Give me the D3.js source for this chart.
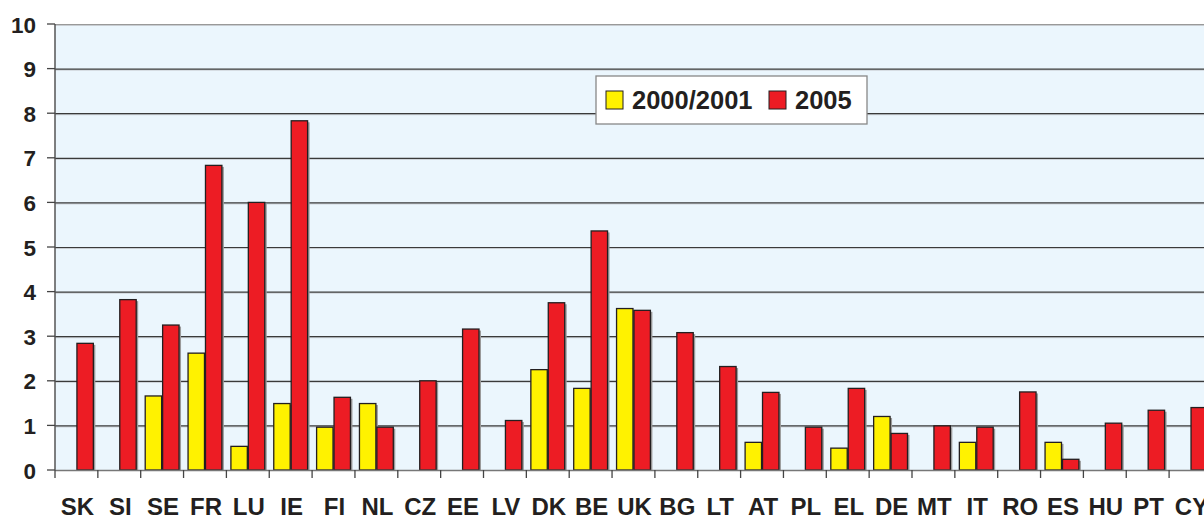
<!DOCTYPE html>
<html>
<head>
    <style>
        body { margin: 0; background: white; }
        text { font-family: "Liberation Sans", Arial, sans-serif; font-weight: bold; fill: #231F20; }
    </style>
    <script src="https://d3js.org/d3.v7.min.js"></script>
</head>
<body>
    <svg width="1204" height="516"></svg>
    <script>
        // data
        const countries = ["SK", "SI", "SE", "FR", "LU", "IE", "FI", "NL", "CZ", "EE", "LV", "DK", "BE", "UK",
            "BG", "LT", "AT", "PL", "EL", "DE", "MT", "IT", "RO", "ES", "HU", "PT", "CY"];
        const seriesNames = ["2000/2001", "2005"];
        const values2000 = [null, null, 1.66, 2.62, 0.53, 1.49, 0.96, 1.49, null, null, null, 2.25, 1.83, 3.62,
            null, null, 0.62, null, 0.49, 1.2, null, 0.62, null, 0.62, null, null, null];
        const values2005 = [2.84, 3.82, 3.25, 6.83, 6.0, 7.83, 1.63, 0.96, 2.0, 3.16, 1.11, 3.75, 5.36, 3.58,
            3.08, 2.32, 1.74, 0.96, 1.83, 0.82, 0.99, 0.96, 1.75, 0.24, 1.05, 1.34, 1.4];
        const yTicks = [0, 1, 2, 3, 4, 5, 6, 7, 8, 9, 10];
        const colors = { "2000/2001": "#FFF200", "2005": "#ED1C24" };

        const svg = d3.select("svg");
        const plotLeft = 55, plotTop = 24, plotBottom = 470, step = 42.85;

        const x = d3.scaleBand().domain(countries).range([plotLeft, plotLeft + countries.length * step]).padding(0);
        const x1 = d3.scaleBand().domain(seriesNames).range([0, x.bandwidth()]).paddingInner(0).paddingOuter(0.23);
        const y = d3.scaleLinear().domain([0, 10]).range([plotBottom, plotTop]);

        // plot background
        svg.append("rect")
            .attr("x", plotLeft).attr("y", plotTop)
            .attr("width", x.range()[1] - plotLeft).attr("height", plotBottom - plotTop)
            .attr("fill", "#EBF6FD");

        // gridlines
        const grid = svg.append("g");
        grid.selectAll(".g2").data(yTicks.filter(d => d > 0)).join("line")
            .attr("x1", plotLeft).attr("x2", 1204)
            .attr("y1", d => y(d) + 1.5).attr("y2", d => y(d) + 1.5)
            .attr("stroke", "#c8cdd2").attr("stroke-width", 1);
        grid.selectAll(".g1").data(yTicks.filter(d => d > 0)).join("line")
            .attr("x1", plotLeft).attr("x2", 1204)
            .attr("y1", d => y(d) + 0.5).attr("y2", d => y(d) + 0.5)
            .attr("stroke", d => d === 10 ? "#999" : "#3a3a3a").attr("stroke-width", 1.2);

        // bars
        const rows = countries.map((c, i) => ({ c, vals: [
            { s: "2000/2001", v: values2000[i] },
            { s: "2005", v: values2005[i] }
        ].filter(d => d.v !== null) }));

        const groups = svg.append("g").selectAll("g").data(rows).join("g")
            .attr("transform", d => `translate(${x(d.c)},0)`);

        groups.selectAll(".shadow").data(d => d.vals).join("rect")
            .attr("x", d => x1(d.s) + 1.5)
            .attr("y", d => y(d.v) + 1.5)
            .attr("width", x1.bandwidth())
            .attr("height", d => plotBottom - y(d.v) - 1.5)
            .attr("fill", "#9a9a9a");

        groups.selectAll(".bar").data(d => d.vals).join("rect")
            .attr("x", d => x1(d.s) + 0.5)
            .attr("y", d => y(d.v))
            .attr("width", x1.bandwidth() - 1)
            .attr("height", d => plotBottom - y(d.v))
            .attr("fill", d => colors[d.s])
            .attr("stroke", "#231F20").attr("stroke-width", 1.3);

        // y axis
        svg.append("line").attr("x1", plotLeft).attr("x2", plotLeft).attr("y1", plotTop).attr("y2", plotBottom)
            .attr("stroke", "#555").attr("stroke-width", 1.5);
        svg.selectAll(".yt").data(yTicks).join("line")
            .attr("x1", plotLeft - 8).attr("x2", plotLeft)
            .attr("y1", d => y(d)).attr("y2", d => y(d))
            .attr("stroke", "#444").attr("stroke-width", 1.3);
        svg.selectAll(".yl").data(yTicks).join("text")
            .attr("x", 36).attr("y", d => y(d) + 8.5)
            .attr("text-anchor", "end")
            .style("font-size", "22.5px")
            .text(d => d);

        // x axis
        svg.append("line").attr("x1", plotLeft).attr("x2", 1204).attr("y1", plotBottom + 0.5).attr("y2", plotBottom + 0.5)
            .attr("stroke", "#777").attr("stroke-width", 1.3);
        svg.selectAll(".xt").data(countries).join("line")
            .attr("x1", d => x(d)).attr("x2", d => x(d))
            .attr("y1", plotBottom).attr("y2", plotBottom + 8)
            .attr("stroke", "#444").attr("stroke-width", 1.3);
        svg.selectAll(".xl").data(countries).join("text")
            .attr("x", d => x(d) + x.bandwidth() / 2 + 1)
            .attr("y", 514.5)
            .attr("text-anchor", "middle")
            .style("font-size", "24px")
            .text(d => d);

        // legend
        const lg = svg.append("g").attr("transform", "translate(596,76)");
        lg.append("rect").attr("width", 271).attr("height", 48)
            .attr("fill", "white").attr("stroke", "#888").attr("stroke-width", 1.3);
        const items = [{ s: "2000/2001", sx: 10, tx: 36 }, { s: "2005", sx: 173, tx: 199 }];
        items.forEach(it => {
            lg.append("rect").attr("x", it.sx).attr("y", 15).attr("width", 17).attr("height", 18)
                .attr("fill", colors[it.s]).attr("stroke", "#231F20").attr("stroke-width", 1);
            lg.append("text").attr("x", it.tx).attr("y", 33).style("font-size", "25.5px").text(it.s);
        });
    </script>
</body>
</html>
